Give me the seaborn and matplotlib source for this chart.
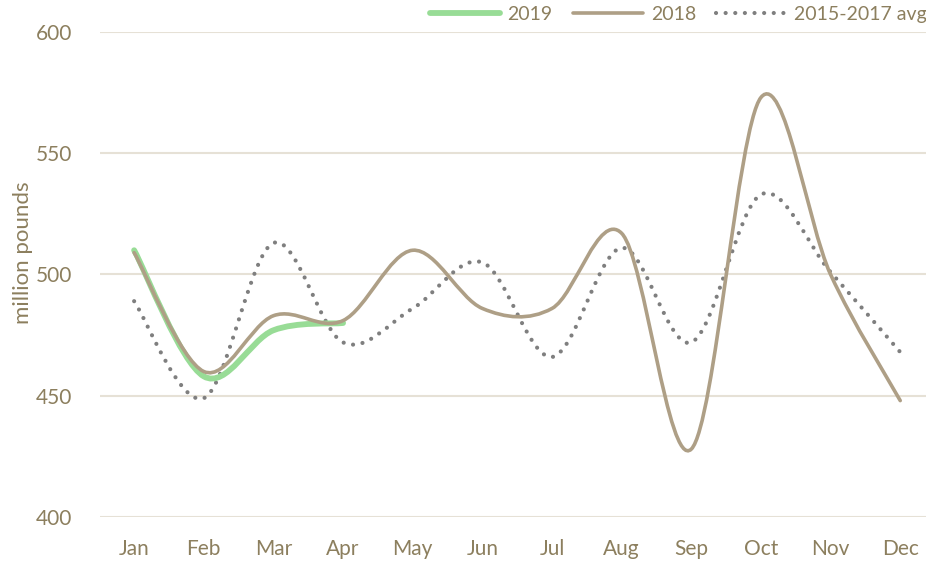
import numpy as np
import matplotlib.pyplot as plt
import seaborn as sns
from matplotlib.path import Path
from matplotlib.patches import PathPatch
from matplotlib.lines import Line2D

months = ['Jan', 'Feb', 'Mar', 'Apr', 'May', 'Jun', 'Jul', 'Aug', 'Sep', 'Oct', 'Nov', 'Dec']
y2019 = [510, 458, 477, 480]
y2018 = [509, 460, 483, 481, 510, 486, 486, 517, 428, 573, 500, 448]
avg_15_17 = [489, 449, 513, 472, 486, 505, 466, 511, 472, 533, 501, 468]

TEXT = '#8c7f5e'
GRID = '#e6e1d6'
C2019 = '#98dc96'
C2018 = '#ae9f86'
CAVG = '#7f7f7f'

sns.set_style('white')
plt.rcParams['font.family'] = ['Lato', 'DejaVu Sans']


def smooth_path(ys):
    # bezier curve through the points, like Excel's "smoothed line"
    pts = np.column_stack([np.arange(len(ys)), ys]).astype(float)
    pad = np.vstack([pts[0], pts, pts[-1]])
    verts = [pts[0]]
    codes = [Path.MOVETO]
    for i in range(len(pts) - 1):
        p0, p1, p2, p3 = pad[i:i + 4]
        verts += [p1 + (p2 - p0) / 6, p2 - (p3 - p1) / 6, p2]
        codes += [Path.CURVE4] * 3
    return Path(verts, codes)


fig = plt.figure(figsize=(9.26, 5.62), dpi=100)
ax = fig.add_axes([100 / 926, 45 / 562, 826 / 926, 485 / 562])

DOTS = (0, (0.01, 2.3))
ax.add_patch(PathPatch(smooth_path(avg_15_17), fill=False, edgecolor=CAVG, lw=3.0,
                       linestyle=DOTS, capstyle='round', zorder=3))
ax.add_patch(PathPatch(smooth_path(y2019), fill=False, edgecolor=C2019, lw=4.2,
                       capstyle='round', zorder=4))
ax.add_patch(PathPatch(smooth_path(y2018), fill=False, edgecolor=C2018, lw=2.6,
                       capstyle='round', zorder=5))

ax.set_xlim(-0.49, 11.37)
ax.set_ylim(400, 600)
ax.set_yticks([400, 450, 500, 550, 600])
ax.set_xticks(range(len(months)))
ax.set_xticklabels(months)
ax.yaxis.grid(True, color=GRID, lw=1.5)
ax.xaxis.grid(False)
sns.despine(ax=ax, left=True, bottom=True)
ax.tick_params(axis='both', length=0, labelsize=15, labelcolor=TEXT)
ax.tick_params(axis='x', pad=16)
ax.tick_params(axis='y', pad=20)
ax.set_ylabel('million pounds', color=TEXT, fontsize=16)
ax.yaxis.set_label_coords(-0.081, 0.545)

handles = [
    Line2D([], [], color=C2019, lw=4.2, solid_capstyle='round'),
    Line2D([], [], color=C2018, lw=2.6, solid_capstyle='round'),
    Line2D([], [], color=CAVG, lw=3.0, linestyle=DOTS, dash_capstyle='round'),
]
leg = fig.legend(handles, ['2019', '2018', '2015-2017 avg'], ncol=3, frameon=False,
                 loc='upper right', bbox_to_anchor=(1.02, 1.02), fontsize=14,
                 handlelength=3.6, columnspacing=1.05, handletextpad=0.4)
for t in leg.get_texts():
    t.set_color(TEXT)

fig.savefig('out.png', dpi=100)
